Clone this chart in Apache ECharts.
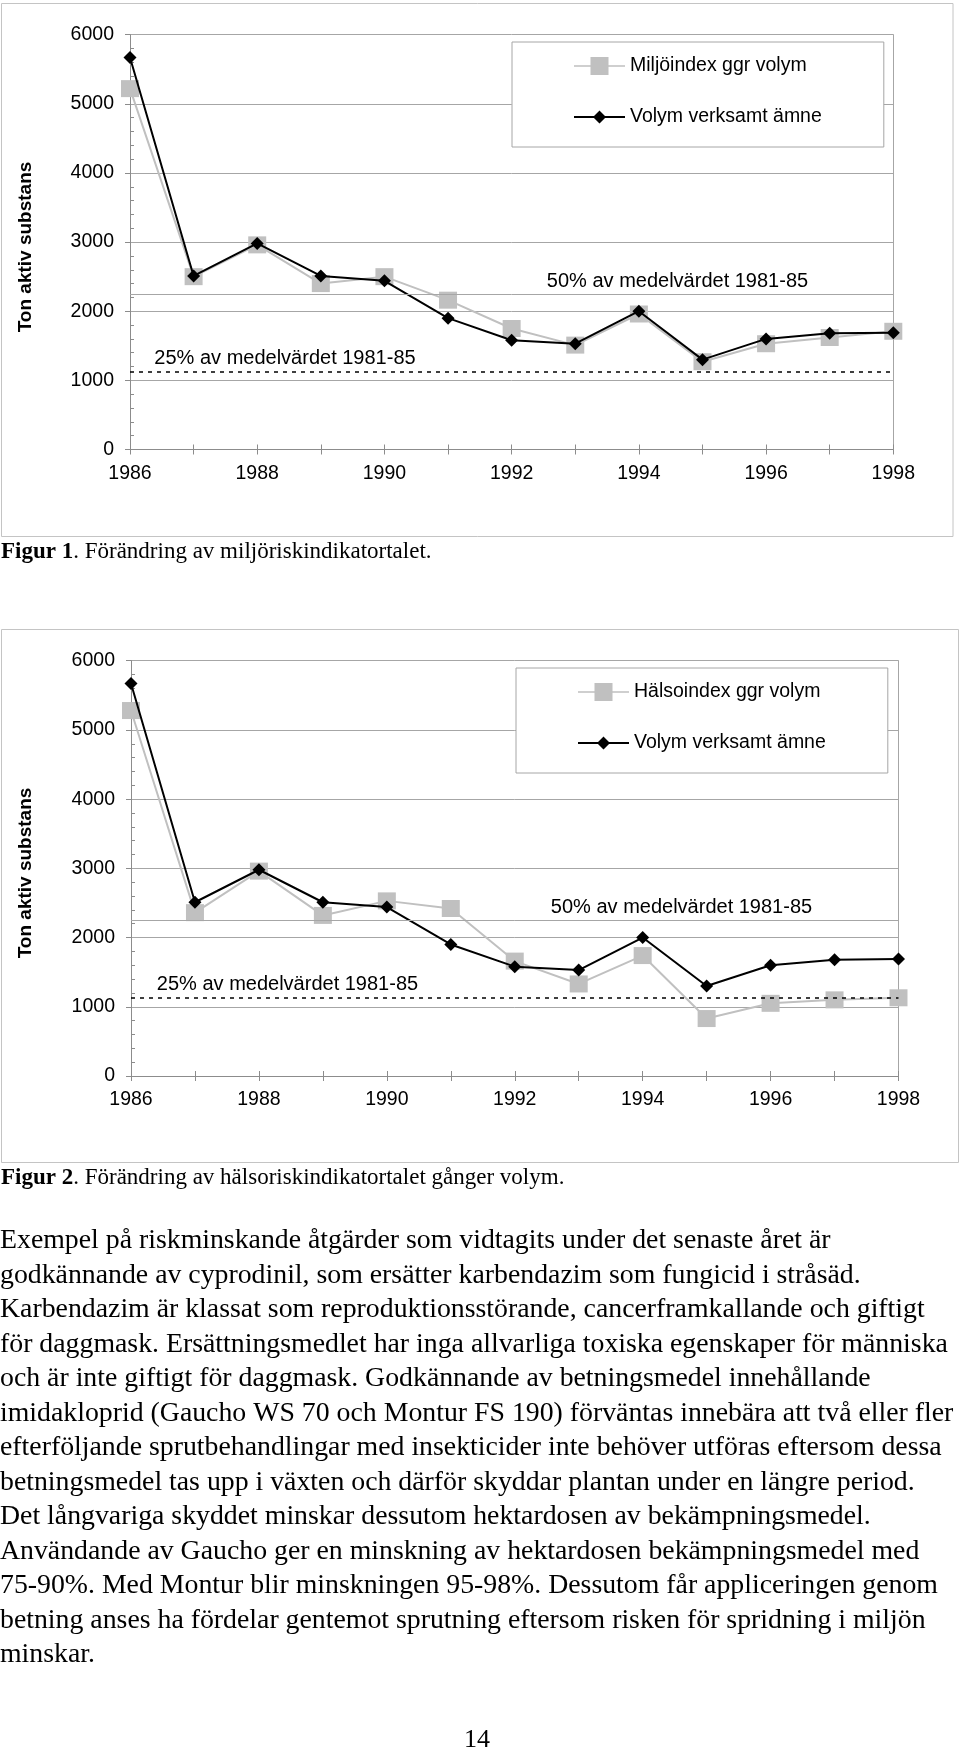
<!DOCTYPE html>
<html>
<head>
<meta charset="utf-8">
<script src="https://cdn.jsdelivr.net/npm/echarts@6/dist/echarts.min.js"></script>
<style>
html,body{margin:0;padding:0;background:#fff;}
#c{width:960px;height:1751px;}
</style>
</head>
<body>
<div id="c"></div>
<script>
// ---------- data ----------
const years = ['1986','1987','1988','1989','1990','1991','1992','1993','1994','1995','1996','1997','1998'];
const yTickValues = [0, 1000, 2000, 3000, 4000, 5000, 6000];
const volymVerksamtAmne = [5670, 2510, 2980, 2510, 2440, 1900, 1580, 1530, 2000, 1300, 1600, 1680, 1690];
const miljoindexGgrVolym = [5220, 2500, 2960, 2400, 2500, 2160, 1750, 1510, 1960, 1270, 1530, 1620, 1710];
const halsoindexGgrVolym = [5280, 2360, 2960, 2320, 2530, 2420, 1660, 1330, 1740, 830, 1050, 1100, 1130];
const ref25Value = 1125;
const ref50Value = 2250;

const nameBlack = 'Volym verksamt ämne';
const nameMiljo = 'Miljöindex ggr volym';
const nameHalso = 'Hälsoindex ggr volym';
const ref25Label = '25% av medelvärdet 1981-85';
const ref50Label = '50% av medelvärdet 1981-85';
const yAxisTitle = 'Ton aktiv substans';
const caption1Bold = 'Figur 1';
const caption1Rest = '. Förändring av miljöriskindikatortalet.';
const caption2Bold = 'Figur 2';
const caption2Rest = '. Förändring av hälsoriskindikatortalet gånger volym.';
const bodyLines = [
  'Exempel på riskminskande åtgärder som vidtagits under det senaste året är',
  'godkännande av cyprodinil, som ersätter karbendazim som fungicid i stråsäd.',
  'Karbendazim är klassat som reproduktionsstörande, cancerframkallande och giftigt',
  'för daggmask. Ersättningsmedlet har inga allvarliga toxiska egenskaper för människa',
  'och är inte giftigt för daggmask. Godkännande av betningsmedel innehållande',
  'imidakloprid (Gaucho WS 70 och Montur FS 190) förväntas innebära att två eller fler',
  'efterföljande sprutbehandlingar med insekticider inte behöver utföras eftersom dessa',
  'betningsmedel tas upp i växten och därför skyddar plantan under en längre period.',
  'Det långvariga skyddet minskar dessutom hektardosen av bekämpningsmedel.',
  'Användande av Gaucho ger en minskning av hektardosen bekämpningsmedel med',
  '75-90%. Med Montur blir minskningen 95-98%. Dessutom får appliceringen genom',
  'betning anses ha fördelar gentemot sprutning eftersom risken för spridning i miljön',
  'minskar.'
];
const pageNumber = '14';

// ---------- styles ----------
const SANS = '"Liberation Sans", Arial, sans-serif';
const SERIF = '"Liberation Serif", "Times New Roman", serif';
const axisColor = '#8c8c8c';
const gridColor = '#a6a6a6';
const grayColor = '#c0c0c0';
const frameColor = '#c4c4c4';

const grayIcon = 'path://M0,8.25L51,8.25L51,9.75L0,9.75Z M16.5,0L34.5,0L34.5,18L16.5,18Z';
const blackIcon = 'path://M0,8L51,8L51,10L0,10Z M19,9L25.5,2.5L32,9L25.5,15.5Z';

const panels = [
  { grid: {left: 130, top: 34.7, width: 763.3, height: 414.8}, grayName: nameMiljo, grayData: miljoindexGgrVolym,
    legendPos: {left: 512, top: 42}, r25: [285, 358], r50: [677.5, 281.5], title: [26, 247],
    frame: {x: 1.5, y: 3.5, width: 951.5, height: 533} },
  { grid: {left: 131, top: 660.7, width: 767.5, height: 415.3}, grayName: nameHalso, grayData: halsoindexGgrVolym,
    legendPos: {left: 516, top: 668}, r25: [287.5, 984], r50: [681.5, 907.5], title: [26, 873],
    frame: {x: 1.5, y: 629.5, width: 957, height: 533} }
];

const option = {
  animation: false,
  backgroundColor: '#fff',
  grid: [], xAxis: [], yAxis: [], series: [], legend: [], graphic: []
};

panels.forEach((p, i) => {
  option.grid.push(Object.assign({containLabel: false, outerBoundsMode: 'none'}, p.grid));
  option.xAxis.push({
    type: 'category', gridIndex: i, data: years, boundaryGap: false, position: 'bottom',
    axisLine: {show: true, lineStyle: {color: axisColor, width: 1}},
    axisTick: {show: true, interval: 0, length: 5, lineStyle: {color: axisColor}},
    axisLabel: {interval: 1, margin: 14, fontSize: 19.5, color: '#000', fontFamily: SANS},
    splitLine: {show: false}
  });
  option.xAxis.push({
    type: 'category', gridIndex: i, data: years, boundaryGap: false, position: 'bottom',
    axisLine: {show: false},
    axisTick: {show: true, inside: true, interval: 0, length: 5, lineStyle: {color: axisColor}},
    axisLabel: {show: false}, splitLine: {show: false}
  });
  option.yAxis.push({
    type: 'value', gridIndex: i, min: yTickValues[0], max: yTickValues[yTickValues.length - 1], interval: 1000, position: 'left',
    axisLine: {show: true, lineStyle: {color: axisColor, width: 1}},
    axisTick: {show: true, length: 5, lineStyle: {color: axisColor}},
    axisLabel: {margin: 16, fontSize: 19.5, color: '#000', fontFamily: SANS, formatter: v => String(v)},
    splitLine: {show: true, lineStyle: {color: gridColor, width: 1}}
  });
  option.yAxis.push({
    type: 'value', gridIndex: i, min: 0, max: 6000, interval: 1000, position: 'left',
    axisLine: {show: false},
    axisTick: {show: false, inside: true},
    minorTick: {show: true, splitNumber: 5, length: 4, lineStyle: {color: axisColor}},
    axisLabel: {show: false}, splitLine: {show: false}
  });
  option.yAxis.push({
    type: 'value', gridIndex: i, min: 0, max: 6000, interval: 1000, position: 'right',
    axisLine: {show: true, lineStyle: {color: gridColor, width: 1}},
    axisTick: {show: false}, axisLabel: {show: false}, splitLine: {show: false}
  });

  option.series.push({
    type: 'line', name: p.grayName, xAxisIndex: 2 * i, yAxisIndex: 3 * i, data: p.grayData,
    symbol: 'rect', symbolSize: [18, 17],
    lineStyle: {color: grayColor, width: 2}, itemStyle: {color: grayColor},
    z: 2, silent: true,
    markLine: {
      silent: true, symbol: 'none', label: {show: false}, animation: false,
      data: [
        {yAxis: ref50Value, lineStyle: {color: gridColor, type: 'solid', width: 1}},
        {yAxis: ref25Value, lineStyle: {color: '#000', type: [4, 5], width: 1.5}}
      ]
    }
  });
  option.series.push({
    type: 'line', name: nameBlack, xAxisIndex: 2 * i, yAxisIndex: 3 * i, data: volymVerksamtAmne,
    symbol: 'diamond', symbolSize: 13,
    lineStyle: {color: '#000', width: 2}, itemStyle: {color: '#000'},
    z: 3, silent: true
  });

  option.legend.push({
    orient: 'vertical', left: p.legendPos.left, top: p.legendPos.top,
    selectedMode: false,
    data: [
      {name: p.grayName, icon: grayIcon, itemStyle: {color: grayColor, borderWidth: 0}},
      {name: nameBlack, icon: blackIcon, itemStyle: {color: '#000', borderWidth: 0}}
    ],
    itemWidth: 51, itemHeight: 18, itemGap: 31,
    padding: [14, 62, 20, 62],
    backgroundColor: '#fff', borderColor: '#a6a6a6', borderWidth: 1,
    textStyle: {fontSize: 19.5, color: '#000', fontFamily: SANS}
  });

  option.graphic.push({
    type: 'rect', silent: true, z: -10,
    shape: p.frame, style: {fill: 'none', stroke: frameColor, lineWidth: 1}
  });
  option.graphic.push({
    type: 'text', silent: true, x: p.r25[0], y: p.r25[1],
    style: {text: ref25Label, fontSize: 20, fontFamily: SANS, fill: '#000', align: 'center', verticalAlign: 'middle'}
  });
  option.graphic.push({
    type: 'text', silent: true, x: p.r50[0], y: p.r50[1],
    style: {text: ref50Label, fontSize: 20, fontFamily: SANS, fill: '#000', align: 'center', verticalAlign: 'middle'}
  });
  option.graphic.push({
    type: 'text', silent: true, x: p.title[0], y: p.title[1], rotation: Math.PI / 2,
    style: {text: yAxisTitle, fontSize: 19, fontWeight: 'bold', fontFamily: SANS, fill: '#000', align: 'center', verticalAlign: 'middle'}
  });
});

// captions
[[caption1Bold, caption1Rest, 552], [caption2Bold, caption2Rest, 1178]].forEach(c => {
  option.graphic.push({
    type: 'text', silent: true, x: 1, y: c[2],
    style: {
      text: '{b|' + c[0] + '}' + c[1],
      rich: {b: {fontWeight: 'bold', fontSize: 23, fontFamily: SERIF, fill: '#000'}},
      fontSize: 23, fontFamily: SERIF, fill: '#000', align: 'left', verticalAlign: 'middle'
    }
  });
});

// body text
bodyLines.forEach((line, k) => {
  option.graphic.push({
    type: 'text', silent: true, x: 0, y: 1241 + k * 34.5,
    style: {text: line, fontSize: 27.8, fontFamily: SERIF, fill: '#000', align: 'left', verticalAlign: 'middle'}
  });
});
option.graphic.push({
  type: 'text', silent: true, x: 477, y: 1740,
  style: {text: pageNumber, fontSize: 26, fontFamily: SERIF, fill: '#000', align: 'center', verticalAlign: 'middle'}
});

const chart = echarts.init(document.getElementById('c'), null, {renderer: 'canvas', width: 960, height: 1751});
chart.setOption(option);
</script>
</body>
</html>
